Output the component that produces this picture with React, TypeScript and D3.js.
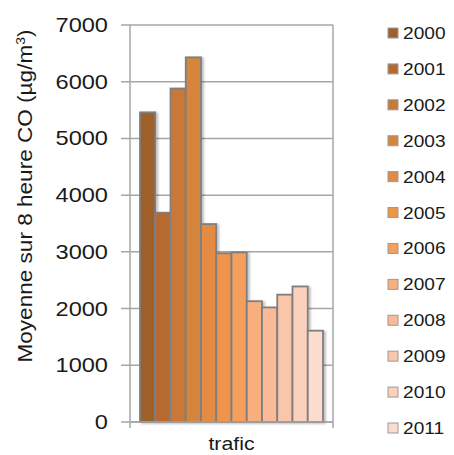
import React from "react";
import * as d3 from "d3";

const years = ["2000","2001","2002","2003","2004","2005","2006","2007","2008","2009","2010","2011"];
const values = [5460, 3690, 5880, 6430, 3490, 2975, 2990, 2130, 2020, 2245, 2390, 1610];
const colors = ["#A0602C","#B66A31","#C87837","#D6853D","#E38B42","#F09448","#F69F5B","#F8AF7E","#F9BA95","#FAC6AA","#FBD0BC","#FCDCCE"];
const yTicks = [0, 1000, 2000, 3000, 4000, 5000, 6000, 7000];
const category = "trafic";

const W = 454, H = 455;
const left = 130, right = 333, top = 25, bottom = 422;

export default function App() {
  const y = d3.scaleLinear().domain([0, 7000]).range([bottom, top]);
  const x = d3.scaleBand<string>().domain(years).range([140, 323]).padding(0);
  const legendY = d3.scalePoint<string>().domain(years).range([33, 428]);
  const font = "'Liberation Sans', Arial, sans-serif";
  const grid = "#A6A6A6";
  return (
    <svg width={W} height={H} style={{ position: "absolute", left: 0, top: 0 }} fontFamily={font}>
      <defs>
        <filter id="sh" x="-20%" y="-20%" width="160%" height="140%">
          <feDropShadow dx="2" dy="1" stdDeviation="1.2" floodColor="#000" floodOpacity="0.25" />
        </filter>
      </defs>
      <rect width={W} height={H} fill="#fff" />
      {yTicks.map((t) => (
        <g key={t}>
          <line x1={left - 9} x2={right} y1={y(t)} y2={y(t)} stroke={grid} strokeWidth={1.5} />
          <g transform={`translate(108,${y(t) + 7}) scale(1.18,1)`}>
            <text textAnchor="end" fontSize={20} fill="#1a1a1a">{t}</text>
          </g>
        </g>
      ))}
      <line x1={left} x2={left} y1={top} y2={bottom + 6} stroke={grid} strokeWidth={1.5} />
      <line x1={right} x2={right} y1={top} y2={bottom + 6} stroke={grid} strokeWidth={1.5} />
      <g filter="url(#sh)">
        {years.map((yr, i) => (
          <rect key={yr} x={x(yr)!} y={y(values[i])} width={x.bandwidth()} height={bottom - y(values[i])}
            fill={colors[i]} stroke="#7F7F7F" strokeWidth={1.8} />
        ))}
      </g>
      <line x1={left} x2={right} y1={bottom} y2={bottom} stroke={grid} strokeWidth={1.5} />
      <g transform={`translate(${(left + right) / 2},${bottom + 28}) scale(1.12,1)`}>
        <text textAnchor="middle" fontSize={19} fill="#1a1a1a">{category}</text>
      </g>
      <g transform={`translate(32,196) rotate(-90)`}>
        <text textAnchor="middle" fontSize={21} fill="#1a1a1a" textLength={333} lengthAdjust="spacingAndGlyphs">
          Moyenne sur 8 heure CO (µg/m<tspan baselineShift="super" fontSize={13}>3</tspan>)
        </text>
      </g>
      {years.map((yr, i) => (
        <g key={yr}>
          <rect x={388} y={legendY(yr)! - 5} width={10} height={10} fill={colors[i]} stroke="#9A9A9A" strokeWidth={1} />
          <g transform={`translate(403,${legendY(yr)! + 6}) scale(1.16,1)`}>
            <text fontSize={16.5} fill="#1a1a1a">{yr}</text>
          </g>
        </g>
      ))}
    </svg>
  );
}
